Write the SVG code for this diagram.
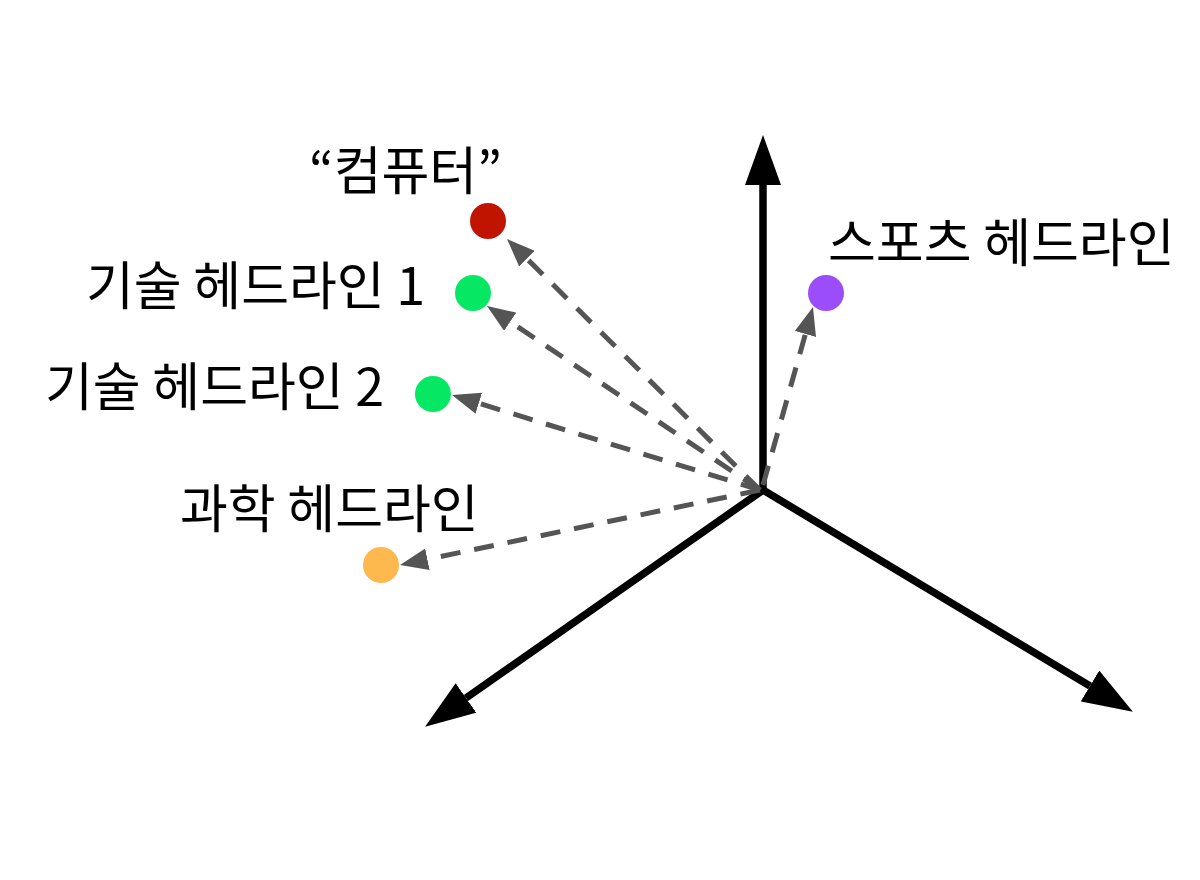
<svg xmlns="http://www.w3.org/2000/svg" width="1200" height="880" viewBox="0 0 1200 880">
<style>
.lbl{font-family:"Noto Sans CJK KR","Noto Sans",sans-serif;font-size:52px;fill:#000}
.axis{stroke:#000;stroke-width:7.5;fill:none}
.vec{stroke:#555;stroke-width:5;stroke-dasharray:20 14;fill:none}
</style>
<defs>
<marker id="ah" markerUnits="userSpaceOnUse" viewBox="0 -18 50 36" refX="0" refY="0" markerWidth="50" markerHeight="36" orient="auto"><path d="M0,-18 L50,0 L0,18 z" fill="#000"/></marker>
<marker id="dh" markerUnits="userSpaceOnUse" viewBox="0 -11 28 22" refX="0" refY="0" markerWidth="28" markerHeight="22" orient="auto"><path d="M0,-11 L28,0 L0,11 z" fill="#555"/></marker>
</defs>
<rect width="1200" height="880" fill="#fff"/>
<g id="axes">
<line class="axis" x1="763" y1="490" x2="763" y2="185" marker-end="url(#ah)"/>
<line class="axis" x1="763" y1="490" x2="466" y2="698" marker-end="url(#ah)"/>
<line class="axis" x1="763" y1="490" x2="1090" y2="686" marker-end="url(#ah)"/>
</g>
<g id="connectors">
<line class="vec" x1="760" y1="490" x2="526.9" y2="258.7" marker-end="url(#dh)"/>
<line class="vec" x1="760" y1="490" x2="510.2" y2="321.7" marker-end="url(#dh)"/>
<line class="vec" x1="760" y1="490" x2="478.8" y2="403.3" marker-end="url(#dh)"/>
<line class="vec" x1="760" y1="490" x2="427.4" y2="559.3" marker-end="url(#dh)"/>
<line class="vec" x1="763" y1="485" x2="805.4" y2="334" marker-end="url(#dh)"/>
</g>
<g id="computer"><circle cx="488" cy="221" r="18" fill="#c01400"/><text class="lbl" x="309" y="190">“컴퓨터”</text></g>
<g id="tech1"><circle cx="473" cy="293" r="18" fill="#06e864"/><text class="lbl" x="86" y="305">기술 헤드라인 1</text></g>
<g id="tech2"><circle cx="433" cy="394" r="18" fill="#06e864"/><text class="lbl" x="45" y="406">기술 헤드라인 2</text></g>
<g id="science"><circle cx="381" cy="565" r="18" fill="#fdb94d"/><text class="lbl" x="180" y="528">과학 헤드라인</text></g>
<g id="sports"><circle cx="826" cy="293" r="18" fill="#9b4dfa"/><text class="lbl" x="828" y="262">스포츠 헤드라인</text></g>
</svg>
